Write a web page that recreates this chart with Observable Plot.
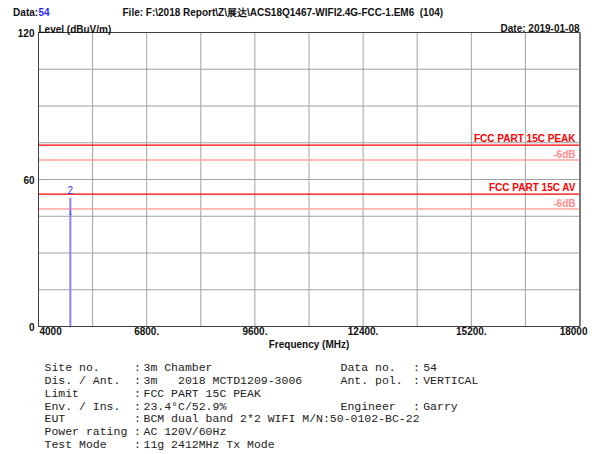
<!DOCTYPE html>
<html>
<head>
<meta charset="utf-8">
<script src="https://cdn.jsdelivr.net/npm/d3@7"></script>
<script src="https://cdn.jsdelivr.net/npm/@observablehq/plot@0.6"></script>
<style>
  html, body { margin: 0; padding: 0; background: #fff; }
  #chart svg { display: block; }
</style>
</head>
<body>
<div id="chart"></div>
<script>
// ---- data ----
const freqTicks = [4000, 6800, 9600, 12400, 15200, 18000];
const freqTickLabels = ["4000", "6800.", "9600.", "12400.", "15200.", "18000"];
const freqGrid = [5400, 6800, 8200, 9600, 11000, 12400, 13800, 15200, 16600];
const levelTicks = [0, 60, 120];
const levelGrid = [15, 30, 45, 60, 75, 90, 105];
const limitNames = ["FCC PART 15C PEAK", "FCC PART 15C AV"];
const limitLevels = [74, 54];
const limitMarginDb = 6;
const marginLabel = "-6dB";
const traceFreq = [4824, 4824];
const traceLevel = [0, 52.1];
const markerNo = ["1", "2"];
const markerFreq = [4824, 4824];
const markerLevel = [46.3, 52.1];
const headerData = "54";
const headerFile = "File: F:\\2018 Report\\Z\\展达\\ACS18Q1467-WIFI2.4G-FCC-1.EM6  (104)";
const headerDate = "Date: 2019-01-08";
const yLabel = "Level (dBuV/m)";
const xLabel = "Frequency (MHz)";
const infoLabels = ["Site no.", "Dis. / Ant.", "Limit", "Env. / Ins.", "EUT", "Power rating", "Test Mode"];
const infoValues = ["3m Chamber", "3m   2018 MCTD1209-3006", "FCC PART 15C PEAK", "23.4\u00B0C/52.9%", "BCM dual band 2*2 WIFI M/N:50-0102-BC-22", "AC 120V/60Hz", "11g 2412MHz Tx Mode"];
const infoRightLabels = ["Data no.", "Ant. pol.", "", "Engineer"];
const infoRightValues = ["54", "VERTICAL", "", "Garry"];

// ---- derived tables ----
const trace = traceFreq.map((f, i) => ({f, l: traceLevel[i]}));
const markers = markerNo.map((n, i) => ({n, f: markerFreq[i], l: markerLevel[i]}));
const limits = limitNames.map((n, i) => ({n, l: limitLevels[i]}));
const ticks = freqTicks.map((f, i) => ({f, t: freqTickLabels[i]}));

const sans = "'Liberation Sans', Arial, sans-serif";
const mono = "'Courier New', 'Liberation Mono', monospace";
const lh = 12.83 / 11.5;
const infoStyle = {frameAnchor: "bottom-left", textAnchor: "start", lineAnchor: "top", lineHeight: lh, fontSize: 11.5, fontFamily: mono, fill: "#222"};
const infoDy = 35.5;

const chart = Plot.plot({
  width: 598,
  height: 454,
  marginLeft: 38,
  marginRight: 19,
  marginTop: 32,
  marginBottom: 128,
  x: {domain: [4000, 18000], axis: null},
  y: {domain: [0, 120], axis: null},
  style: {background: "#fff", overflow: "visible"},
  marks: [
    Plot.ruleX(freqGrid, {stroke: "#a0a0a0", strokeWidth: 1}),
    Plot.ruleY(levelGrid, {stroke: "#a0a0a0", strokeWidth: 1}),
    Plot.ruleY(limits, {y: d => d.l - limitMarginDb, stroke: "#ffa0a0", strokeWidth: 1.5}),
    Plot.ruleY(limits, {y: "l", stroke: "#ff0000", strokeWidth: 1.3}),
    Plot.text(limits, {x: () => 18000, y: "l", text: "n", textAnchor: "end", dx: -4, dy: -6.5, fill: "#ff0000", fontWeight: "bold", fontSize: 10, fontFamily: sans}),
    Plot.text(limits, {x: () => 18000, y: d => d.l - limitMarginDb, text: () => marginLabel, textAnchor: "end", dx: -4, dy: -5.5, fill: "#ff8c8c", fontWeight: "bold", fontSize: 10, fontFamily: sans}),
    Plot.line(trace, {x: "f", y: "l", stroke: "#8484ff", strokeWidth: 2}),
    Plot.text(markers.filter(d => d.n === "2"), {x: "f", y: "l", text: "n", dy: -8, fill: "#3a3aff", fontSize: 10, fontFamily: sans}),
    Plot.text(markers.filter(d => d.n === "1"), {x: "f", y: "l", text: "n", fill: "#2626c8", fontSize: 5, fontFamily: sans}),
    Plot.frame({stroke: "#404040", strokeWidth: 1}),
    Plot.ruleX([18000], {stroke: "#7a7a7a", strokeWidth: 2, dx: 0.5}),
    // x tick labels
    Plot.text(ticks.slice(0, 1), {x: "f", text: "t", frameAnchor: "bottom", textAnchor: "start", dx: 1, dy: 8, fontWeight: "bold", fontSize: 10, fontFamily: sans, fill: "#111"}),
    Plot.text(ticks.slice(1, -1), {x: "f", text: "t", frameAnchor: "bottom", dy: 8, fontWeight: "bold", fontSize: 10, fontFamily: sans, fill: "#111"}),
    Plot.text(ticks.slice(-1), {x: "f", text: "t", frameAnchor: "bottom", textAnchor: "end", dx: 8, dy: 8, fontWeight: "bold", fontSize: 10, fontFamily: sans, fill: "#111"}),
    // y tick labels
    Plot.text(levelTicks, {y: d => d, text: d => String(d), frameAnchor: "left", textAnchor: "end", dx: -4, dy: 1, fontWeight: "bold", fontSize: 10, fontFamily: sans, fill: "#111"}),
    // axis titles
    Plot.text([yLabel], {frameAnchor: "top-left", textAnchor: "start", dy: -7, fontWeight: "bold", fontSize: 10, fontFamily: sans, fill: "#111"}),
    Plot.text([headerDate], {frameAnchor: "top-right", textAnchor: "end", dy: -7.5, fontWeight: "bold", fontSize: 10, fontFamily: sans, fill: "#111"}),
    Plot.text([xLabel], {frameAnchor: "bottom", dy: 21, fontWeight: "bold", fontSize: 10, fontFamily: sans, fill: "#111"}),
    // header
    Plot.text(["Data:"], {frameAnchor: "top-left", textAnchor: "start", dx: -25.4, dy: -24, fontWeight: "bold", fontSize: 10, fontFamily: sans, fill: "#111"}),
    Plot.text([headerData], {frameAnchor: "top-left", textAnchor: "start", dx: 0, dy: -24, fontWeight: "bold", fontSize: 10, fontFamily: sans, fill: "#2a2aff"}),
    Plot.text([headerFile], {frameAnchor: "top-left", textAnchor: "start", dx: 84, dy: -24, fontWeight: "bold", fontSize: 10, fontFamily: sans, fill: "#111"}),
    // info block
    Plot.text([infoLabels.join("\n")], {...infoStyle, dx: 6, dy: infoDy}),
    Plot.text([infoLabels.map(() => ":").join("\n")], {...infoStyle, dx: 95.5, dy: infoDy}),
    Plot.text([infoValues.join("\n")], {...infoStyle, dx: 105, dy: infoDy}),
    Plot.text([infoRightLabels.join("\n")], {...infoStyle, dx: 302, dy: infoDy}),
    Plot.text([infoRightLabels.map(d => d ? ":" : "").join("\n")], {...infoStyle, dx: 374.5, dy: infoDy}),
    Plot.text([infoRightValues.join("\n")], {...infoStyle, dx: 384.7, dy: infoDy})
  ]
});
document.getElementById("chart").appendChild(chart);
</script>
</body>
</html>
